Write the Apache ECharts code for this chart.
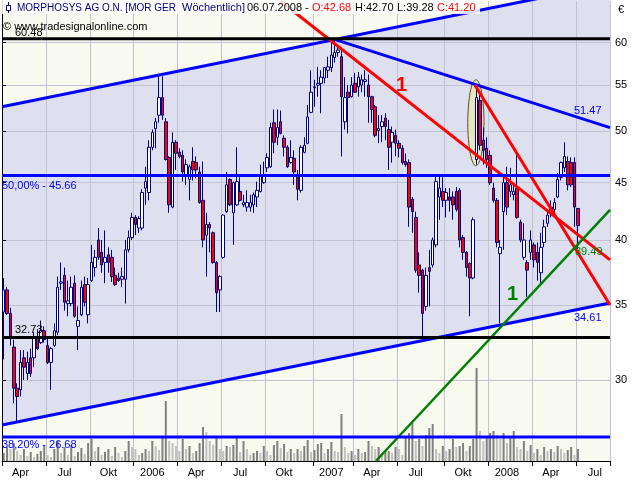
<!DOCTYPE html>
<html><head><meta charset="utf-8">
<script src="https://cdn.jsdelivr.net/npm/echarts@6/dist/echarts.min.js"></script>
<style>html,body{margin:0;padding:0;background:#fff}#c{width:640px;height:480px}</style>
</head><body><div id="c"></div>
<script>
// ---------- data ----------
const firstWeek = '2005-03-28';
const weekCount = 180;
// weekly candles: [open, close, low, high]
const candles = [
[34.5,36.1,31.3,37.0],[36.1,34.4,34.3,36.3],[34.4,32.8,32.2,34.8],[32.1,29.5,28.6,32.6],[29.5,29.0,27.5,29.8],
[29.4,31.1,29.0,31.9],[31.4,30.8,30.0,31.9],[30.4,31.1,30.0,31.8],[31.4,30.4,30.2,32.0],[31.4,32.7,30.8,33.1],
[32.7,32.0,31.9,33.3],[32.4,33.2,32.3,33.9],[33.2,32.6,32.4,33.5],[32.2,31.1,31.0,32.8],[31.1,32.0,29.4,32.1],
[32.2,33.2,32.1,33.7],[33.1,36.3,32.9,37.1],[36.6,36.7,36.1,38.2],[37.2,35.2,34.6,37.8],[35.1,35.3,34.2,36.8],
[35.1,36.3,34.9,37.1],[36.6,34.2,34.1,37.2],[33.5,33.9,31.9,34.9],[34.3,36.3,34.2,36.8],[36.5,35.2,34.9,37.1],
[34.3,36.5,33.7,37.0],[36.8,38.2,36.7,39.6],[37.8,38.6,37.1,39.2],[40.0,38.6,38.4,41.0],[39.0,38.0,37.4,40.0],
[38.2,38.6,36.6,40.8],[38.8,38.2,37.4,39.4],[38.6,37.1,36.7,39.2],[37.2,36.5,36.4,37.8],[37.0,36.8,36.7,37.4],
[36.9,37.1,36.3,37.8],[36.9,39.2,35.1,40.0],[39.2,40.2,39.0,40.8],[40.2,41.9,40.0,42.3],[41.9,41.3,40.4,42.1],
[41.0,41.8,40.6,42.0],[41.0,44.1,40.8,44.4],[44.5,45.1,43.0,46.5],[44.1,48.4,43.4,49.1],[48.4,49.9,48.1,50.2],
[50.3,51.0,48.3,51.4],[51.7,53.6,50.9,56.2],[53.6,51.7,51.2,56.0],[51.0,47.2,47.1,51.4],[47.4,43.0,42.3,47.5],
[42.8,48.9,42.7,49.9],[48.9,47.8,46.2,49.1],[47.9,47.5,47.3,48.3],[47.6,46.0,45.1,48.1],[45.7,46.7,44.8,47.2],
[45.3,46.5,43.4,46.7],[47.0,46.2,45.2,48.4],[46.9,46.2,45.4,47.5],[46.0,43.2,43.1,46.5],[43.4,40.0,39.4,47.0],
[40.4,41.3,37.1,42.3],[41.3,41.0,39.0,41.5],[40.6,38.2,38.1,40.7],[38.2,35.9,34.5,38.3],[36.1,37.1,34.5,37.2],
[38.6,42.1,38.5,42.2],[42.4,44.8,42.3,46.0],[45.3,43.0,42.9,45.4],[42.3,45.0,39.6,45.1],[43.0,45.1,42.9,48.4],
[44.2,43.4,43.3,45.5],[43.0,43.2,42.8,43.9],[42.8,43.2,42.4,44.3],[42.8,43.2,42.4,43.9],[43.0,43.9,42.3,44.1],
[43.7,44.3,42.8,45.1],[44.2,45.7,44.1,46.7],[45.0,45.7,44.9,47.0],[46.4,47.4,46.0,47.8],[46.5,50.4,46.4,50.9],
[50.9,48.9,47.8,52.3],[49.4,50.4,48.6,52.3],[51.0,49.8,49.7,52.2],[49.3,48.4,47.5,49.6],[48.4,46.5,46.4,48.6],
[46.9,47.4,46.8,49.1],[47.3,46.0,44.8,48.1],[45.5,44.4,43.4,46.2],[44.3,48.4,44.1,48.6],[47.9,48.6,47.8,49.4],
[48.8,51.5,48.7,52.8],[52.0,54.2,51.9,56.7],[54.7,54.8,52.6,55.6],[55.0,55.2,53.7,57.1],[55.2,55.9,51.9,56.7],
[55.8,57.0,55.2,57.1],[56.7,57.1,55.8,58.3],[57.0,58.5,56.5,60.0],[58.2,58.8,57.6,60.48],[58.8,59.1,58.3,59.7],
[58.3,53.7,47.5,59.4],[51.0,53.6,50.2,55.9],[54.2,53.6,49.8,55.0],[53.7,55.0,53.6,55.9],[55.2,54.2,54.1,56.4],
[54.8,55.9,53.7,56.5],[55.0,55.6,54.2,56.2],[55.4,55.6,53.7,56.7],[55.0,53.7,50.9,56.2],[53.7,52.3,50.9,53.8],
[52.6,49.6,49.4,52.8],[50.1,50.3,48.8,51.7],[50.5,51.0,48.9,51.7],[51.4,50.5,49.1,51.9],[50.2,48.4,46.2,51.2],
[48.9,49.9,46.9,50.5],[49.6,48.8,47.5,50.2],[48.8,48.3,47.4,49.1],[48.3,46.9,46.7,48.6],[47.0,46.7,46.5,47.8],
[46.9,42.8,41.1,47.2],[43.5,42.4,40.6,43.7],[41.9,37.6,37.4,42.4],[38.0,37.2,35.9,39.0],[37.6,34.4,32.8,37.7],
[34.9,37.2,34.6,37.8],[37.8,37.5,34.9,39.2],[38.0,40.0,37.8,40.2],[39.6,45.1,39.4,45.7],[43.7,44.5,41.7,45.7],
[44.2,43.4,42.8,45.5],[43.4,44.1,41.9,44.5],[43.7,43.4,42.4,44.5],[43.7,43.0,41.7,44.2],[44.2,42.6,42.4,44.6],
[44.3,40.0,39.4,44.5],[40.2,39.0,38.4,40.4],[39.0,37.8,37.1,39.1],[38.1,37.0,34.2,38.2],[37.0,41.7,36.9,41.9],
[47.2,53.6,46.7,55.0],[53.3,48.6,48.1,53.9],[49.1,48.1,46.7,50.4],[48.3,47.2,46.4,49.4],[47.6,45.0,44.8,48.1],
[44.5,43.4,43.2,45.0],[43.4,39.8,39.4,43.6],[38.9,39.4,33.7,40.0],[42.4,45.0,39.2,45.5],[45.0,42.8,42.1,46.5],
[44.2,44.8,43.7,46.4],[43.9,44.2,43.4,44.8],[44.5,41.9,41.8,47.9],[41.5,40.0,39.8,41.7],[38.6,40.0,38.4,41.4],
[38.2,37.6,35.6,38.4],[39.0,40.0,38.4,40.8],[39.6,38.4,37.8,39.8],[39.0,38.2,36.8,39.8],[37.4,39.4,36.6,40.6],
[39.8,41.1,39.4,41.7],[41.4,42.1,41.1,42.6],[42.3,42.8,41.9,43.4],[42.6,43.2,42.3,43.6],[43.7,45.3,43.6,45.9],
[45.5,46.9,45.2,47.0],[46.4,47.5,46.0,48.9],[47.0,44.8,44.3,47.5],[46.9,44.8,44.6,47.4],[46.9,42.8,41.1,47.4],
[42.68,41.20,39.28,42.70]
];
// weekly volume (10,000 shares)
const volume = [
8,14,12,18,10,6,12,5,9,4,7,10,15,6,4,12,20,8,14,6,16,5,9,13,7,18,22,10,14,
6,9,12,5,14,8,4,10,20,14,12,6,8,12,10,20,15,11,23,60,20,18,15,10,22,12,15,8,
10,18,34,29,20,16,25,12,10,15,14,16,24,9,20,12,6,8,10,8,15,10,6,16,20,13,17,9,12,
8,12,10,15,21,9,11,17,18,8,12,19,10,9,47,14,8,10,6,12,8,9,20,15,12,14,8,10,
10,8,14,12,6,25,28,38,20,22,15,26,33,37,12,8,15,10,12,22,14,15,18,10,15,22,93,30,20,
24,28,30,26,22,28,18,25,30,14,12,20,10,16,8,12,6,14,10,12,9,15,12,8,11,14,6,12
];
const quarterDates = ['2005-04-01','2005-07-01','2005-10-01','2006-01-01','2006-04-01','2006-07-01','2006-10-01',
  '2007-01-01','2007-04-01','2007-07-01','2007-10-01','2008-01-01','2008-04-01','2008-07-01'];
const quarterLabels = ['Apr','Jul','Okt','2006','Apr','Jul','Okt','2007','Apr','Jul','Okt','2008','Apr','Jul'];
const yTicks = [30,35,40,45,50,55,60];
const yMin = 25.4, yMax = 65.37;
// drawing tools: [weekPosition, price]
const upperChannel = [[0,52.6],[180,67.7]];
const lowerChannel = [[0,27.35],[180,35.14]];
const blueDown = [[98.0,60.48],[180,50.4]];
const redLine1 = [[82.4,65.37],[180,38.4]];
const redLine2 = [[140.0,55.0],[180,35.0]];
const greenLine = [[110.7,25.4],[180,42.55]];
const blackLevels = [60.48, 32.73];
const fibLevels = [45.66, 26.68];
const ellipseBox = [[137.9,46.6],[142.7,55.6]];

// ---------- build ----------
const DAY = 86400000;
const t0 = Date.parse(firstWeek);
const weeks = [];
for (let i = 0; i < weekCount; i++) weeks.push(new Date(t0 + i * 7 * DAY).toISOString().slice(0, 10));
const tickIdx = quarterDates.map(s => Math.floor((Date.parse(s) - t0) / (7 * DAY)));
const tickSet = new Set(tickIdx);
const labelMap = new Map();
tickIdx.forEach((t, k) => labelMap.set(t + 5, quarterLabels[k]));

const FONT = 'Liberation Sans';
const volData = volume.map((v, i) => ({value: v, itemStyle: {color: (i > 0 && v < volume[i - 1]) ? '#c0c0c0' : '#808080'}}));

function seg(pts, color, width) {
  return {type: 'line', xAxisIndex: 1, yAxisIndex: 0, data: pts, symbol: 'none', silent: true,
    z: 3, lineStyle: {color: color, width: width}, animation: false};
}
const lineSeries = [
  seg(upperChannel, '#0000ff', 3), seg(lowerChannel, '#0000ff', 3), seg(blueDown, '#0000ff', 3),
  seg(redLine1, '#ff0000', 3), seg(redLine2, '#ff0000', 3), seg(greenLine, '#008000', 2.5)
];
blackLevels.forEach(v => lineSeries.push(seg([[0, v], [weekCount, v]], '#000000', 3)));
fibLevels.forEach(v => lineSeries.push(seg([[0, v], [weekCount, v]], '#0000ff', 3)));

function txt(x, y, text, color, size, bold) {
  return {type: 'text', x: x, y: y, z: 20, silent: true,
    style: {text: text, fill: color, font: (bold ? 'bold ' : '') + size + 'px "' + FONT + '"',
      textAlign: 'left', align: 'left', textVerticalAlign: 'middle', verticalAlign: 'middle'}};
}

const chart = echarts.init(document.getElementById('c'), null, {renderer: 'canvas', width: 640, height: 480});
chart.setOption({
  animation: false,
  backgroundColor: '#ffffff',
  grid: {left: 2, right: 30, top: 1, bottom: 19, containLabel: false, outerBoundsMode: 'none'},
  xAxis: [{
    type: 'category', data: weeks, boundaryGap: true, gridIndex: 0,
    axisLine: {show: true, lineStyle: {color: '#000', width: 1}},
    axisTick: {show: true, interval: (i) => tickSet.has(i), length: 5, lineStyle: {color: '#000'}},
    axisLabel: {show: true, interval: (i) => labelMap.has(i), formatter: (v, i) => labelMap.get(i) || '',
      color: '#000', fontSize: 11, fontFamily: FONT, margin: 6},
    splitLine: {show: true, interval: (i) => tickSet.has(i), lineStyle: {color: '#c2c2d2', width: 1}}
  }, {
    type: 'value', min: 0, max: weekCount, show: false, gridIndex: 0
  }],
  yAxis: [{
    type: 'log', logBase: 10, min: yMin, max: yMax, position: 'right',
    axisLine: {show: true, lineStyle: {color: '#000', width: 1}},
    axisTick: {show: true, customValues: yTicks, length: 4, lineStyle: {color: '#000'}},
    axisLabel: {show: true, customValues: yTicks, color: '#000', fontSize: 11, fontFamily: FONT, margin: 5},
    splitLine: {show: true, lineStyle: {color: '#c2c2d2', width: 1}}
  }, {
    type: 'value', min: 0, max: 460, position: 'left',
    axisLine: {show: true, lineStyle: {color: '#000', width: 1}},
    axisTick: {show: false}, axisLabel: {show: false}, splitLine: {show: false}
  }],
  graphic: [
    {type: 'rect', z: -10, silent: true, shape: {x: 2, y: 1, width: 608, height: 460}, style: {fill: '#f8faf0'}},
    {type: 'rect', z: 15, silent: true, shape: {x: 0, y: 0, width: 480, height: 14}, style: {fill: 'rgba(255,255,255,0.85)'}},
    {type: 'line', z: 16, silent: true, shape: {x1: 8.5, y1: 2, x2: 8.5, y2: 13}, style: {stroke: '#000080', lineWidth: 1}},
    {type: 'rect', z: 16, silent: true, shape: {x: 6.5, y: 5.5, width: 4, height: 5}, style: {fill: '#ffffff', stroke: '#000080', lineWidth: 1}},
    txt(17, 8, 'MORPHOSYS AG O.N. [MOR GER', '#000080', 10),
    txt(182, 8, 'Wöchentlich]', '#000080', 11),
    txt(247, 8, '06.07.2008 -', '#000000', 11),
    txt(312, 8, 'O:42.68', '#ff0000', 11),
    txt(355, 8, 'H:42.70', '#000000', 11),
    txt(397, 8, 'L:39.28', '#000000', 11),
    txt(437, 8, 'C:41.20', '#ff0000', 11),
    txt(3, 27, '© www.tradesignalonline.com', '#000000', 11),
    txt(15, 33, '60.48', '#000000', 11),
    txt(15, 330, '32.73', '#000000', 11),
    txt(2, 186, '50,00% - 45.66', '#0000ff', 11),
    txt(2, 445, '38,20% - 26.68', '#0000ff', 11),
    txt(574, 111, '51.47', '#0000ff', 11),
    txt(575, 252, '39.49', '#008000', 11),
    txt(574, 318, '34.61', '#0000ff', 11),
    txt(396, 85, '1', '#ff0000', 20, true),
    txt(507, 294, '1', '#008000', 20, true),
    txt(618, 10, '€', '#000000', 11)
  ],
  series: [
    {type: 'custom', name: 'channel', xAxisIndex: 1, yAxisIndex: 0, z: -1, silent: true,
      data: [[0, 30]],
      renderItem: function (params, api) {
        const pts = [api.coord(lowerChannel[0]), api.coord(lowerChannel[1]), api.coord(upperChannel[1]), api.coord(upperChannel[0])];
        return {type: 'polygon', shape: {points: pts}, style: {fill: '#dee0f0'}};
      }},
    {type: 'custom', name: 'ellipse', xAxisIndex: 1, yAxisIndex: 0, z: 1, silent: true,
      data: [[0, 30]],
      renderItem: function (params, api) {
        const a = api.coord(ellipseBox[0]), b = api.coord(ellipseBox[1]);
        return {type: 'ellipse', shape: {cx: (a[0] + b[0]) / 2, cy: (a[1] + b[1]) / 2,
          rx: Math.abs(b[0] - a[0]) / 2, ry: Math.abs(a[1] - b[1]) / 2},
          style: {fill: 'rgba(232,232,180,0.9)', stroke: '#50503a', lineWidth: 1}};
      }},
    {type: 'bar', name: 'Volumen', xAxisIndex: 0, yAxisIndex: 1, data: volData, barWidth: 2, z: 1, silent: true},
    {type: 'candlestick', name: 'MORPHOSYS', xAxisIndex: 0, yAxisIndex: 0, data: candles, barWidth: 3, z: 2, silent: true,
      itemStyle: {color: '#ffffff', color0: '#ff0000', borderColor: '#000080', borderColor0: '#000080',
        borderColorDoji: '#000080', borderWidth: 1}},
    ...lineSeries
  ]
});
</script>
</body></html>
